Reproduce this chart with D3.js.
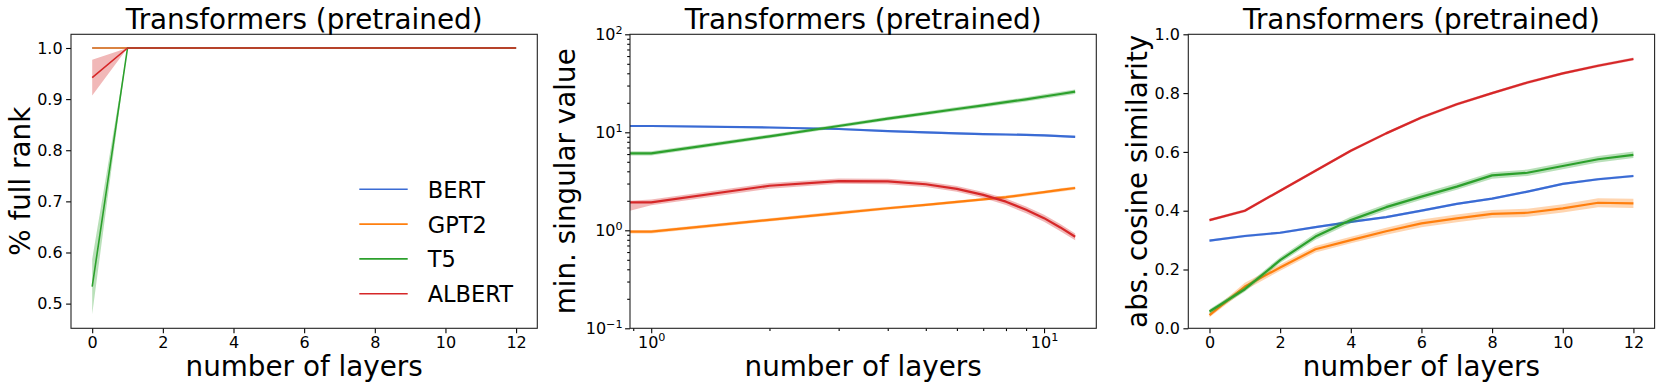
<!DOCTYPE html>
<html><head><meta charset="utf-8">
<script src="https://cdn.jsdelivr.net/npm/d3@7"></script>
<style>
body{margin:0;background:#fff}
text{font-family:"DejaVu Sans",sans-serif;fill:#000}
</style>
</head><body>
<svg id="chart" width="1661" height="390"></svg>
<script>
// ---------------- data ----------------
const layers = [0,1,2,3,4,5,6,7,8,9,10,11,12];
const models = ["BERT","GPT2","T5","ALBERT"];
const colors = ["#3a6bd4","#ff7f0e","#2ca02c","#d62728"];
const titleText = "Transformers (pretrained)";
const xLabelText = "number of layers";
const yLabelTexts = ["% full rank","min. singular value","abs. cosine similarity"];

// panel 1: % full rank (mean, half-width of band)
const rankBERT   = [1,1,1,1,1,1,1,1,1,1,1,1,1];
const rankGPT2   = [1,1,1,1,1,1,1,1,1,1,1,1,1];
const rankT5     = [0.533,1,1,1,1,1,1,1,1,1,1,1,1];
const rankALBERT = [0.942,1,1,1,1,1,1,1,1,1,1,1,1];
const rankBandBERT   = [0,0,0,0,0,0,0,0,0,0,0,0,0];
const rankBandGPT2   = [0,0,0,0,0,0,0,0,0,0,0,0,0];
const rankBandT5     = [0.054,0,0,0,0,0,0,0,0,0,0,0,0];
const rankBandALBERT = [0.035,0,0,0,0,0,0,0,0,0,0,0,0];
const rankXTicks = [0,2,4,6,8,10,12];
const rankYTicks = [0.5,0.6,0.7,0.8,0.9,1.0];

// panel 2: min. singular value (log-log), mean / low / high  (layer 0 lies left of the log axis)
const svBERT     = [11.6,11.6,11.2,10.8,10.3,10.0,9.75,9.6,9.5,9.4,9.3,9.15,9.0];
const svLoBERT   = [11.35,11.35,10.95,10.55,10.05,9.75,9.5,9.35,9.25,9.15,9.05,8.9,8.75];
const svHiBERT   = [11.85,11.85,11.45,11.05,10.55,10.25,10.0,9.85,9.75,9.65,9.55,9.4,9.25];
const svGPT2     = [0.97,0.97,1.28,1.50,1.68,1.82,1.95,2.07,2.18,2.32,2.45,2.58,2.70];
const svLoGPT2   = [0.93,0.93,1.23,1.44,1.62,1.76,1.88,2.00,2.10,2.23,2.36,2.48,2.60];
const svHiGPT2   = [1.01,1.01,1.33,1.56,1.74,1.88,2.02,2.14,2.26,2.41,2.54,2.68,2.80];
const svT5       = [6.1,6.1,9.1,11.6,13.8,15.6,17.3,18.8,20.3,21.7,23.2,24.6,26.0];
const svLoT5     = [5.8,5.8,8.7,11.1,13.2,14.9,16.5,17.9,19.3,20.6,22.0,23.3,24.6];
const svHiT5     = [6.4,6.4,9.5,12.1,14.4,16.3,18.1,19.7,21.3,22.8,24.4,25.9,27.4];
const svALBERT   = [1.93,1.93,2.85,3.18,3.15,2.95,2.65,2.30,1.96,1.62,1.33,1.07,0.86];
const svLoALBERT = [1.58,1.80,2.66,2.98,2.95,2.76,2.47,2.14,1.81,1.49,1.22,0.98,0.79];
const svHiALBERT = [2.00,2.06,3.04,3.38,3.35,3.14,2.83,2.46,2.11,1.75,1.44,1.16,0.93];
const svXTicks = [1,10];
const svXMinor = [0.9,2,3,4,5,6,7,8,9];
const svYTicks = [0.1,1,10,100];
const svYMinor = [0.2,0.3,0.4,0.5,0.6,0.7,0.8,0.9,2,3,4,5,6,7,8,9,20,30,40,50,60,70,80,90];

// panel 3: abs. cosine similarity (mean, half-width of band)
const cosBERT   = [0.298,0.314,0.325,0.344,0.362,0.378,0.400,0.423,0.441,0.465,0.491,0.507,0.518];
const cosGPT2   = [0.045,0.142,0.207,0.269,0.300,0.330,0.357,0.374,0.389,0.393,0.408,0.427,0.425];
const cosT5     = [0.057,0.133,0.232,0.312,0.368,0.412,0.448,0.482,0.520,0.529,0.552,0.575,0.590];
const cosALBERT = [0.368,0.400,0.468,0.536,0.604,0.663,0.717,0.762,0.800,0.836,0.867,0.893,0.916];
const cosBandBERT   = [0.004,0.004,0.004,0.004,0.004,0.004,0.004,0.004,0.004,0.004,0.004,0.004,0.004];
const cosBandGPT2   = [0.007,0.013,0.011,0.011,0.011,0.012,0.013,0.013,0.013,0.014,0.014,0.015,0.016];
const cosBandT5     = [0.008,0.009,0.010,0.011,0.011,0.011,0.011,0.011,0.011,0.011,0.011,0.011,0.011];
const cosBandALBERT = [0.005,0.005,0.005,0.005,0.005,0.005,0.005,0.005,0.005,0.005,0.005,0.005,0.005];
const cosXTicks = [0,2,4,6,8,10,12];
const cosYTicks = [0.0,0.2,0.4,0.6,0.8,1.0];

// ---------------- layout ----------------
const svg = d3.select("#chart");
svg.append("rect").attr("width",1661).attr("height",390).attr("fill","#fff");
const AX_W = 466.3, AX_H = 294, AX_TOP = 34.3;
const lefts = [71, 630, 1188.3];
const TICK = 4.9, MINOR = 2.8, FS = 16;

function frame(i){
  const g = svg.append("g").attr("transform",`translate(${lefts[i]},${AX_TOP})`);
  const cid = "clip"+i;
  g.append("clipPath").attr("id",cid).append("rect").attr("width",AX_W).attr("height",AX_H);
  const plot = g.append("g").attr("clip-path",`url(#${cid})`);
  return {g, plot};
}
function styleAxis(sel){
  sel.select(".domain").remove();
  sel.selectAll(".tick line").attr("stroke","#000").attr("stroke-width",1.1);
  sel.selectAll(".tick text").attr("font-size",FS).attr("font-family","DejaVu Sans, sans-serif").attr("fill","#000");
}
function decorate(i,g){
  g.append("rect").attr("width",AX_W).attr("height",AX_H).attr("fill","none").attr("stroke","#222").attr("stroke-width",1.1);
  g.append("text").attr("x",AX_W/2).attr("y",28.5-AX_TOP).attr("text-anchor","middle").attr("font-size",27.8).text(titleText);
  g.append("text").attr("x",AX_W/2).attr("y",376.5-AX_TOP).attr("text-anchor","middle").attr("font-size",27.8).text(xLabelText);
  const ylx = [30, 575, 1147][i] - lefts[i];
  g.append("text").attr("transform",`translate(${ylx},${AX_H/2}) rotate(-90)`).attr("text-anchor","middle").attr("font-size",27.8).text(yLabelTexts[i]);
}
function drawSeries(plot, x, y, xs, lo, mid, hi, color, lw, xclip){
  const xv = d => xclip ? Math.max(d, x.domain()[0]) : d;
  const idx = d3.range(xs.length);
  plot.append("path").datum(idx)
    .attr("d", d3.area().x(k=>x(xv(xs[k]))).y0(k=>y(lo[k])).y1(k=>y(hi[k])))
    .attr("fill",color).attr("fill-opacity",0.33).attr("stroke","none");
  plot.append("path").datum(idx)
    .attr("d", d3.line().x(k=>x(xv(xs[k]))).y(k=>y(mid[k])))
    .attr("fill","none").attr("stroke",color).attr("stroke-width",lw).attr("stroke-linejoin","round");
}
const sub = (m,b)=>m.map((v,k)=>v-b[k]);
const add = (m,b)=>m.map((v,k)=>v+b[k]);

// ---------------- panel 1 ----------------
{
  const {g, plot} = frame(0);
  const x = d3.scaleLinear().domain([-0.6,12.6]).range([0,AX_W]);
  const y = d3.scaleLinear().domain([0.4517,1.0268]).range([AX_H,0]);
  const means = [rankBERT,rankGPT2,rankT5,rankALBERT];
  const bands = [rankBandBERT,rankBandGPT2,rankBandT5,rankBandALBERT];
  means.forEach((m,s)=>drawSeries(plot,x,y,layers,sub(m,bands[s]),m,add(m,bands[s]),colors[s],1.6,false));
  g.append("g").attr("transform",`translate(0,${AX_H})`)
    .call(d3.axisBottom(x).tickValues(rankXTicks).tickSize(TICK).tickPadding(3).tickFormat(d3.format("d"))).call(styleAxis);
  g.append("g").call(d3.axisLeft(y).tickValues(rankYTicks).tickSize(TICK).tickPadding(3.5).tickFormat(d3.format(".1f"))).call(styleAxis);
  decorate(0,g);
  // legend
  const lg = g.append("g").attr("transform",`translate(${359.3-lefts[0]},${189.3-AX_TOP})`);
  models.forEach((m,s)=>{
    const row = lg.append("g").attr("transform",`translate(0,${s*34.8})`);
    row.append("line").attr("x1",0).attr("x2",48.4).attr("y1",0).attr("y2",0).attr("stroke",colors[s]).attr("stroke-width",1.6);
    row.append("text").attr("x",68.4).attr("y",8.4).attr("font-size",22.5).text(m);
  });
}

// ---------------- panel 2 ----------------
{
  const {g, plot} = frame(1);
  const x = d3.scaleLog().domain([Math.pow(10,-0.054),Math.pow(10,1.133)]).range([0,AX_W]);
  const y = d3.scaleLog().domain([0.1,100]).range([AX_H,0]);
  const mids = [svBERT,svGPT2,svT5,svALBERT];
  const los = [svLoBERT,svLoGPT2,svLoT5,svLoALBERT];
  const his = [svHiBERT,svHiGPT2,svHiT5,svHiALBERT];
  mids.forEach((m,s)=>drawSeries(plot,x,y,layers,los[s],m,his[s],colors[s],2.2,true));
  const sup = function(sel){
    sel.selectAll(".tick text").each(function(d){
      const e = Math.round(Math.log10(d));
      const t = d3.select(this); t.text(null);
      t.append("tspan").text("10");
      t.append("tspan").attr("dy","-0.55em").attr("font-size","0.7em").text(e<0?"\u2212"+(-e):String(e));
    });
  };
  g.append("g").attr("transform",`translate(0,${AX_H})`)
    .call(d3.axisBottom(x).tickValues(svXMinor).tickSize(MINOR).tickFormat("")).call(styleAxis);
  g.append("g").call(d3.axisLeft(y).tickValues(svYMinor).tickSize(MINOR).tickFormat("")).call(styleAxis);
  g.append("g").attr("transform",`translate(0,${AX_H})`)
    .call(d3.axisBottom(x).tickValues(svXTicks).tickSize(TICK).tickPadding(3)).call(styleAxis).call(sup);
  g.append("g").call(d3.axisLeft(y).tickValues(svYTicks).tickSize(TICK).tickPadding(2.5)).call(styleAxis).call(sup);
  decorate(1,g);
}

// ---------------- panel 3 ----------------
{
  const {g, plot} = frame(2);
  const x = d3.scaleLinear().domain([-0.6,12.6]).range([0,AX_W]);
  const y = d3.scaleLinear().domain([0,1]).range([AX_H,0]);
  const means = [cosBERT,cosGPT2,cosT5,cosALBERT];
  const bands = [cosBandBERT,cosBandGPT2,cosBandT5,cosBandALBERT];
  means.forEach((m,s)=>drawSeries(plot,x,y,layers,sub(m,bands[s]),m,add(m,bands[s]),colors[s],2.2,false));
  g.append("g").attr("transform",`translate(0,${AX_H})`)
    .call(d3.axisBottom(x).tickValues(cosXTicks).tickSize(TICK).tickPadding(3).tickFormat(d3.format("d"))).call(styleAxis);
  g.append("g").call(d3.axisLeft(y).tickValues(cosYTicks).tickSize(TICK).tickPadding(3.5).tickFormat(d3.format(".1f"))).call(styleAxis);
  decorate(2,g);
}
</script>
</body></html>
